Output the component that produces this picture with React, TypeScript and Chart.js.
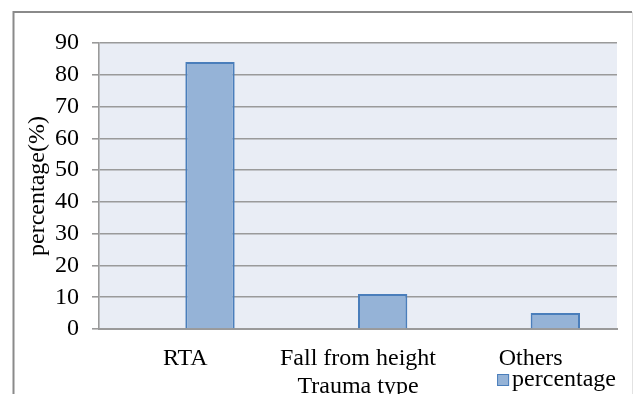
import { useEffect, useRef } from 'react';
import { Chart, registerables } from 'chart.js';

Chart.register(...registerables);

// Share of cases by trauma type
const categories = ['RTA', 'Fall from height', 'Others'];
const percentage = [84, 11, 5];
// Empty first series of the workbook: keeps its slot in each group
const emptySeries = [null, null, null];
const seriesName = 'percentage';
const xTitle = 'Trauma type';
const yTitle = 'percentage(%)';
const yMin = 0;
const yMax = 90;
const yStep = 10;

const W = 633;
const H = 394;
const FONT = '"Liberation Serif", "Times New Roman", serif';
const FONT_SIZE = 24;
const BAR_FILL = '#95b3d7';
const BAR_EDGE = '#4a7ebb';
const GRID = '#9a9a9a';
const PLOT_BG = '#e9edf5';

const framePlugin = {
  id: 'frame',
  beforeDraw(chart: any) {
    const { ctx, chartArea } = chart;
    ctx.save();
    ctx.fillStyle = '#ffffff';
    ctx.fillRect(0, 0, W, H);
    // outer chart border (runs off the bottom edge)
    ctx.strokeStyle = '#8a8a8a';
    ctx.lineWidth = 2;
    ctx.beginPath();
    ctx.moveTo(13.5, H + 2);
    ctx.lineTo(13.5, 12);
    ctx.lineTo(W - 1, 12);
    ctx.stroke();
    ctx.strokeStyle = '#e2e2e2';
    ctx.lineWidth = 1;
    ctx.beginPath();
    ctx.moveTo(W - 0.5, 12);
    ctx.lineTo(W - 0.5, H);
    ctx.stroke();
    // plot area fill
    ctx.fillStyle = PLOT_BG;
    ctx.fillRect(chartArea.left, chartArea.top, chartArea.right - chartArea.left, chartArea.bottom - chartArea.top);
    ctx.restore();
  },
};

const legendPlugin = {
  id: 'cornerLegend',
  afterDraw(chart: any) {
    const { ctx, chartArea } = chart;
    const ds = chart.data.datasets[1];
    ctx.save();
    ctx.font = `${FONT_SIZE}px ${FONT}`;
    ctx.textBaseline = 'alphabetic';
    ctx.textAlign = 'left';
    const tw = ctx.measureText(ds.label).width;
    const textX = chartArea.right - tw - 1;
    const baseY = 386;
    const box = 12;
    const boxX = textX - box - 3;
    ctx.fillStyle = ds.backgroundColor;
    ctx.fillRect(boxX, baseY - 12, box, box);
    ctx.strokeStyle = ds.borderColor;
    ctx.lineWidth = 1;
    ctx.strokeRect(boxX + 0.5, baseY - 11.5, box - 1, box - 1);
    ctx.fillStyle = '#000000';
    ctx.fillText(ds.label, textX, baseY);
    ctx.restore();
  },
};

export default function App() {
  const ref = useRef<HTMLCanvasElement | null>(null);

  useEffect(() => {
    if (!ref.current) return;
    const chart = new Chart(ref.current, {
      type: 'bar',
      data: {
        labels: categories,
        datasets: [
          {
            label: '',
            data: emptySeries,
            backgroundColor: BAR_FILL,
            borderColor: BAR_EDGE,
          },
          {
            label: seriesName,
            data: percentage,
            backgroundColor: BAR_FILL,
            borderColor: BAR_EDGE,
            borderWidth: 2,
          },
        ],
      },
      options: {
        responsive: false,
        animation: false,
        devicePixelRatio: 1,
        categoryPercentage: 2 / 3.5,
        barPercentage: 1,
        layout: { padding: { left: 13, top: 43, right: 16, bottom: 0 } },
        plugins: {
          legend: { display: false },
          tooltip: { enabled: false },
        },
        scales: {
          x: {
            grid: { display: false, drawTicks: false },
            border: { display: true, color: GRID, width: 2 },
            ticks: {
              color: '#000',
              font: { family: FONT, size: FONT_SIZE },
              padding: 15,
              maxRotation: 0,
              autoSkip: false,
            },
            title: {
              display: true,
              text: xTitle,
              color: '#000',
              font: { family: FONT, size: FONT_SIZE, lineHeight: 1 },
              padding: { top: 0, bottom: -5 },
            },
            afterFit(scale: any) {
              scale.height = H - 329;
            },
          },
          y: {
            min: yMin,
            max: yMax,
            grid: { color: GRID, lineWidth: 1.6, tickLength: 7, drawTicks: true },
            border: { display: true, color: GRID, width: 1.6 },
            ticks: {
              stepSize: yStep,
              autoSkip: false,
              color: '#000',
              font: { family: FONT, size: FONT_SIZE },
              padding: 13,
            },
            title: {
              display: true,
              text: yTitle,
              color: '#000',
              font: { family: FONT, size: FONT_SIZE, lineHeight: 1.2 },
              padding: { top: 10, bottom: 0 },
            },
            afterFit(scale: any) {
              scale.width = 99 - 13;
            },
          },
        },
      },
      plugins: [framePlugin, legendPlugin],
    });
    return () => chart.destroy();
  }, []);

  return (
    <div style={{ position: 'absolute', left: 0, top: 0, width: W, height: H, background: '#fff' }}>
      <canvas ref={ref} width={W} height={H} />
    </div>
  );
}
